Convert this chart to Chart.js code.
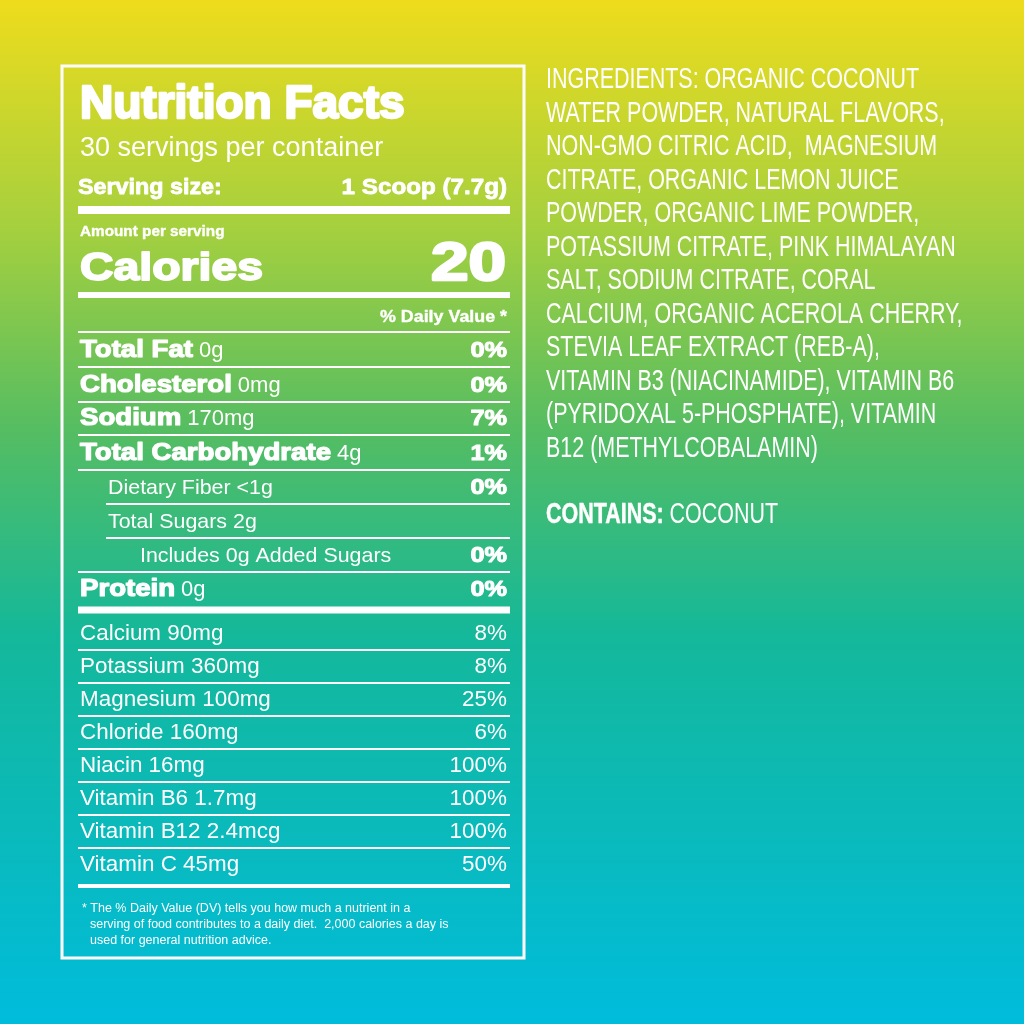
<!DOCTYPE html>
<html>
<head>
<meta charset="utf-8">
<script src="https://cdn.jsdelivr.net/npm/chart.js@4"></script>
<style>
  html, body { margin: 0; padding: 0; background: #00bcd8; }
  canvas { display: block; }
</style>
</head>
<body>
<canvas id="label" width="1024" height="1024"></canvas>
<script>
// main nutrients
const nutrients = ['Total Fat', 'Cholesterol', 'Sodium', 'Total Carbohydrate', 'Dietary Fiber', 'Total Sugars', 'Includes 0g Added Sugars', 'Protein'];
const amounts = ['0g', '0mg', '170mg', '4g', '<1g', '2g', '', '0g'];
const dailyValues = ['0%', '0%', '7%', '1%', '0%', '', '0%', '0%'];
const indent = [0, 0, 0, 0, 1, 1, 2, 0];

// vitamins & minerals
const minerals = ['Calcium 90mg', 'Potassium 360mg', 'Magnesium 100mg', 'Chloride 160mg', 'Niacin 16mg', 'Vitamin B6 1.7mg', 'Vitamin B12 2.4mcg', 'Vitamin C 45mg'];
const mineralDV = ['8%', '8%', '25%', '6%', '100%', '100%', '100%', '50%'];

const ingredients = [
  'INGREDIENTS: ORGANIC COCONUT',
  'WATER POWDER, NATURAL FLAVORS,',
  'NON-GMO CITRIC ACID,  MAGNESIUM',
  'CITRATE, ORGANIC LEMON JUICE',
  'POWDER, ORGANIC LIME POWDER,',
  'POTASSIUM CITRATE, PINK HIMALAYAN',
  'SALT, SODIUM CITRATE, CORAL',
  'CALCIUM, ORGANIC ACEROLA CHERRY,',
  'STEVIA LEAF EXTRACT (REB-A),',
  'VITAMIN B3 (NIACINAMIDE), VITAMIN B6',
  '(PYRIDOXAL 5-PHOSPHATE), VITAMIN',
  'B12 (METHYLCOBALAMIN)'
];

const SANS = '"Liberation Sans", Arial, sans-serif';

function hline(ctx, x1, x2, y, w) {
  ctx.fillRect(x1, y - w / 2, x2 - x1, w);
}

// text drawn with horizontal stretch (sx) and optional extra weight
function txt(ctx, s, x, y, font, sx, align, weight) {
  ctx.save();
  ctx.font = font;
  ctx.translate(x, y);
  ctx.scale(sx, 1);
  ctx.textAlign = align || 'left';
  ctx.fillText(s, 0, 0);
  if (weight) {
    ctx.lineWidth = weight;
    ctx.lineJoin = 'round';
    ctx.strokeText(s, 0, 0);
  }
  const w = ctx.measureText(s).width * sx;
  ctx.restore();
  return w;
}

const labelPlugin = {
  id: 'nutritionLabel',
  beforeDraw(chart) {
    const ctx = chart.ctx;
    const g = ctx.createLinearGradient(0, 0, 0, 1024);
    g.addColorStop(0, '#eedc1c');
    g.addColorStop(0.22, '#a6d03e');
    g.addColorStop(0.42, '#55bd62');
    g.addColorStop(0.62, '#14b89a');
    g.addColorStop(1, '#00bcdc');
    ctx.save();
    ctx.fillStyle = g;
    ctx.fillRect(0, 0, 1024, 1024);

    ctx.fillStyle = '#fff';
    ctx.strokeStyle = '#fff';
    ctx.lineWidth = 3;
    ctx.strokeRect(62, 66, 462, 892);

    const L = 78, R = 510;
    const B = 'bold ';
    txt(ctx, 'Nutrition Facts', 80, 118, B + '46px ' + SANS, 1.0, 'left', 2.5);
    txt(ctx, '30 servings per container', 80, 156, '27px ' + SANS, 1.0);
    const sw = txt(ctx, 'Serving size:', 78, 194, B + '22px ' + SANS, 1.06, 'left', 0.8);
    txt(ctx, '1 Scoop (7.7g)', 507, 194, B + '22px ' + SANS, 1.1, 'right', 0.8);
    hline(ctx, L, R, 210, 8);

    txt(ctx, 'Amount per serving', 80, 236, B + '15px ' + SANS, 1.02, 'left', 0.4);
    txt(ctx, 'Calories', 80, 280, B + '38px ' + SANS, 1.22, 'left', 1.8);
    txt(ctx, '20', 506, 280, B + '54px ' + SANS, 1.25, 'right', 2.5);
    hline(ctx, L, R, 295, 6);
    txt(ctx, '% Daily Value *', 507, 322, B + '17px ' + SANS, 1.05, 'right', 0.4);
    hline(ctx, L, R, 332, 2);

    const rowBase = [357, 392, 425, 460, 494, 528, 562, 596];
    const indentX = [80, 108, 140];
    nutrients.forEach((n, i) => {
      const x = indentX[indent[i]];
      const y = rowBase[i];
      if (indent[i] === 0) {
        const w = txt(ctx, n, x, y, B + '23px ' + SANS, 1.2, 'left', 1.2);
        txt(ctx, amounts[i], x + w + 6, y, '22px ' + SANS, 1.0);
      } else {
        txt(ctx, n + (amounts[i] ? ' ' + amounts[i] : ''), x, y, '21px ' + SANS, 1.02);
      }
      txt(ctx, dailyValues[i], 507, y, B + '22px ' + SANS, 1.15, 'right', 1);
      if (i < nutrients.length - 1) {
        const nextIndent = indent[i + 1];
        const lx = nextIndent > 0 ? indentX[nextIndent] - 2 : L;
        hline(ctx, Math.min(lx, indent[i] > 0 ? indentX[indent[i]] - 2 : L), R, y + 10, 2);
      }
    });
    hline(ctx, L, R, 610, 7);

    minerals.forEach((m, i) => {
      const y = 640 + i * 33;
      txt(ctx, m, 80, y, '22px ' + SANS, 1.02);
      txt(ctx, mineralDV[i], 507, y, '22px ' + SANS, 1.02, 'right');
      if (i < minerals.length - 1) hline(ctx, L, R, y + 10, 2);
    });
    hline(ctx, L, R, 886, 4);

    ctx.textAlign = 'left';
    ctx.font = '12.5px ' + SANS;
    ctx.fillText('* The % Daily Value (DV) tells you how much a nutrient in a', 82, 912);
    ctx.fillText('serving of food contributes to a daily diet.  2,000 calories a day is', 90, 928);
    ctx.fillText('used for general nutrition advice.', 90, 944);

    // condensed ingredient text
    const cond = 0.74;
    ingredients.forEach((t, i) => txt(ctx, t, 546, 88 + i * 33.5, '29px ' + SANS, cond));
    const cw = txt(ctx, 'CONTAINS: ', 546, 523, B + '29px ' + SANS, cond, 'left', 0.5);
    txt(ctx, 'COCONUT', 546 + cw, 523, '29px ' + SANS, cond);
    ctx.restore();
  }
};

new Chart(document.getElementById('label'), {
  type: 'bar',
  data: { labels: nutrients, datasets: [{ data: [], borderWidth: 0 }] },
  options: {
    responsive: false,
    animation: false,
    devicePixelRatio: 1,
    plugins: { legend: { display: false }, tooltip: { enabled: false } },
    scales: { x: { display: false }, y: { display: false } }
  },
  plugins: [labelPlugin]
});
</script>
</body>
</html>
